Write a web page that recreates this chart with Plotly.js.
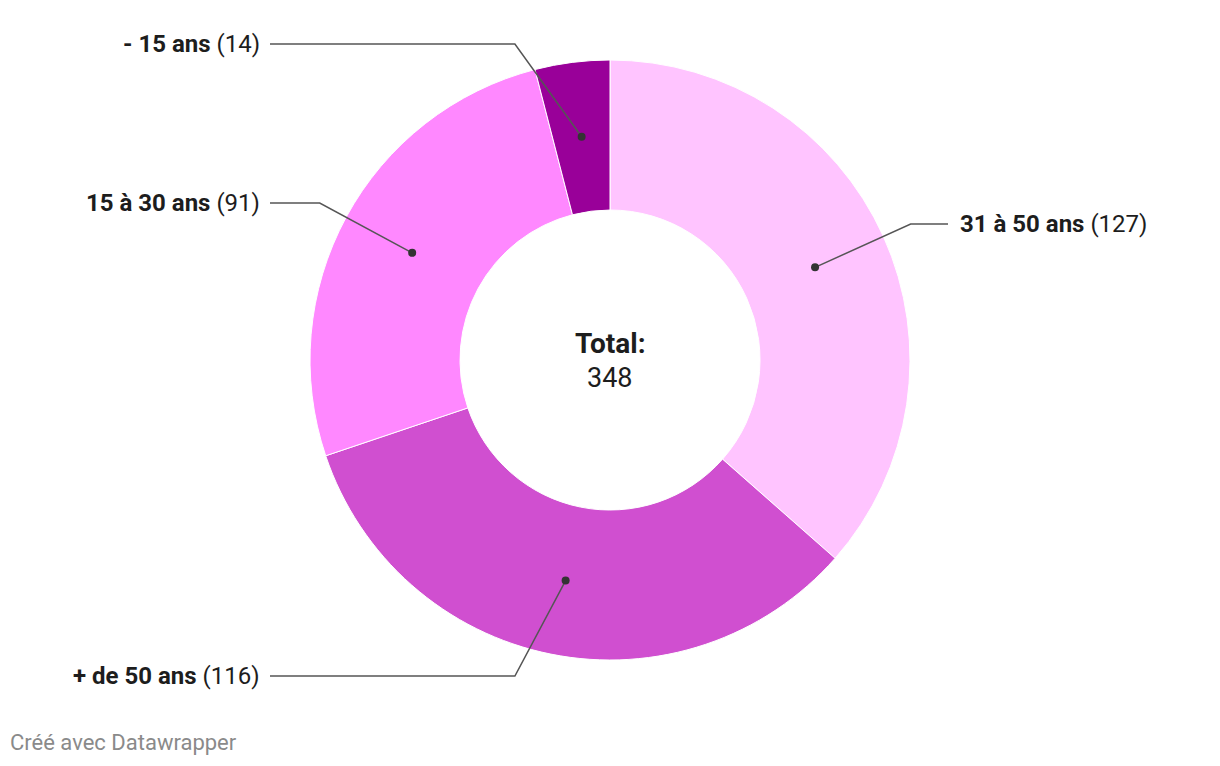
<!DOCTYPE html>
<html><head><meta charset="utf-8">
<script src="https://cdn.plot.ly/plotly-3.0.1.min.js"></script>
<style>html,body{margin:0;padding:0;background:#fff}</style>
</head><body><div id="chart" style="width:1220px;height:766px"></div>
<script>
const categories = ["31 à 50 ans", "+ de 50 ans", "15 à 30 ans", "- 15 ans"];
const values = [127, 116, 91, 14];
const colors = ["#ffc4ff", "#d04fd0", "#ff88ff", "#990099"];
const totalLabel = "Total:";
// label placement (layout): y position (px from top) of each label row
const labelY = [224, 676, 203, 44];

const W = 1220, H = 766;
const cx = 610, cy = 360, R = 300, hole = 0.5;
const dotR = R * (1 + hole) / 2, elbowR = 330;
const total = values.reduce((a, b) => a + b, 0);

const traces = [{
  type: "pie", values: values, labels: categories, sort: false,
  direction: "clockwise", rotation: 0, hole: hole,
  marker: {colors: colors, line: {color: "#ffffff", width: 1}},
  textinfo: "none", hoverinfo: "label+value", showlegend: false,
  domain: {x: [(cx - R) / W, (cx + R) / W], y: [(H - cy - R) / H, (H - cy + R) / H]}
}, {type: "scatter", x: [0, W], y: [0, H], mode: "markers", marker: {opacity: 0}, hoverinfo: "skip", showlegend: false}];
const annotations = [];
const shapes = [];
let cum = 0;
values.forEach((v, i) => {
  const mid = (cum + v / 2) / total * 2 * Math.PI; cum += v;
  const dx = Math.sin(mid), dy = -Math.cos(mid);
  const px = cx + dotR * dx, py = cy + dotR * dy;
  const right = dx >= 0;
  const ly = labelY[i];
  const ex = cx + (right ? 1 : -1) * Math.sqrt(Math.max(0, elbowR * elbowR - (ly - cy) * (ly - cy)));
  const endX = right ? 948 : 270;
  shapes.push({type: "path", xref: "x", yref: "y", layer: "above",
    path: `M ${px} ${py} L ${ex} ${ly} L ${endX} ${ly}`,
    line: {color: "#555555", width: 1.5}});
  shapes.push({type: "circle", xref: "x", yref: "y", layer: "above",
    x0: px - 4, x1: px + 4, y0: py - 4, y1: py + 4,
    fillcolor: "#333333", line: {width: 0}});
  annotations.push({xref: "x", yref: "y", x: right ? endX + 10 : endX - 8, y: ly,
    xanchor: right ? "left" : "right", yanchor: "middle", showarrow: false,
    text: "<b>" + categories[i] + "</b> (" + v + ")",
    font: {family: "Roboto", size: 24, color: "#1d1d1d"}});
});
annotations.push({xref: "x", yref: "y", x: cx, y: 343, showarrow: false,
  xanchor: "center", yanchor: "middle", text: "<b>" + totalLabel + "</b>",
  font: {family: "Roboto", size: 28, color: "#1d1d1d"}});
annotations.push({xref: "x", yref: "y", x: cx, y: 378, showarrow: false,
  xanchor: "center", yanchor: "middle", text: String(total),
  font: {family: "Roboto", size: 27, color: "#1d1d1d"}});
annotations.push({xref: "x", yref: "y", x: 8, y: 742, showarrow: false,
  xanchor: "left", yanchor: "middle", text: "Créé avec Datawrapper",
  font: {family: "Roboto", size: 22, color: "#8a8a8a"}});

const layout = {
  width: W, height: H, margin: {l: 0, r: 0, t: 0, b: 0},
  paper_bgcolor: "#ffffff", plot_bgcolor: "rgba(0,0,0,0)",
  xaxis: {range: [0, W], visible: false, fixedrange: true},
  yaxis: {range: [H, 0], visible: false, fixedrange: true},
  annotations: annotations, shapes: shapes, showlegend: false
};
Plotly.newPlot("chart", traces, layout, {displayModeBar: false, staticPlot: true});
</script></body></html>
